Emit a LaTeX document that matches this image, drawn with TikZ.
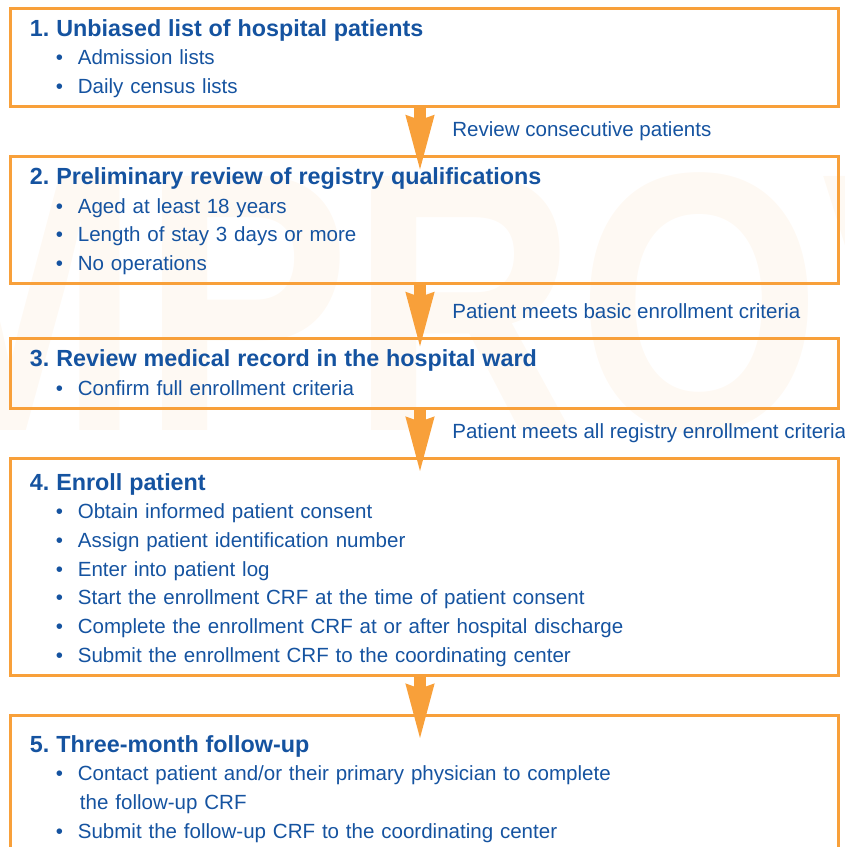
\documentclass[tikz,border=0pt]{standalone}
\usepackage{fontspec}
\setmainfont{Liberation Sans}
\newfontfamily\markfont[FakeStretch=0.85]{Liberation Sans}
\usetikzlibrary{arrows.meta,positioning}
\frenchspacing

\definecolor{stepblue}{HTML}{1553A0}
\definecolor{steporange}{HTML}{F8A03A}

% title line of a box, optional arg = space above the first baseline
\newcommand{\steptitle}[2][21pt]{\rule{0pt}{#1}{\fontsize{17.5pt}{21.5pt}\selectfont\bfseries #2}}
\newcommand{\stepitem}[1]{\\\hspace*{19.5pt}\textbullet\hspace{11pt}#1}
\newcommand{\stepend}[1][9.75pt]{\rule[-#1]{0pt}{#1}}

\begin{document}
\begin{tikzpicture}[
  x=0.75pt, y=0.75pt,
  stepbox/.style={draw=steporange, line width=2.25pt, text=stepblue, align=left,
    text width=591pt, inner xsep=15pt, inner ysep=0pt, outer sep=0pt,
    font={\fontsize{15.4pt}{21.5pt}\selectfont}},
  arr/.style={draw=steporange, line width=9.5pt,
    -{Stealth[length=41pt, width=22pt, inset=4pt, line width=0pt]}},
  note/.style={right=19.5pt, text=stepblue, inner sep=0pt,
    font={\fontsize{15.4pt}{18pt}\selectfont}},
  wmtext/.style={anchor=base west, inner sep=0pt, text=steporange!6,
    font={\markfont\bfseries\fontsize{277pt}{277pt}\selectfont}}
]
  \clip (0,0) rectangle (845,-847);

  % faint logo behind the boxes
  \node[wmtext] (wm) at (-208,-430) {IMPROVE};

  \node[stepbox, anchor=north west] (b1) at (10,-8)
    {\steptitle{1. Unbiased list of hospital patients}
     \stepitem{Admission lists}
     \stepitem{Daily census lists\stepend}};
  \node[stepbox, below=37.5pt of b1] (b2)
    {\steptitle{2. Preliminary review of registry qualifications}
     \stepitem{Aged at least 18 years}
     \stepitem{Length of stay 3 days or more}
     \stepitem{No operations\stepend}};
  \node[stepbox, below=41.25pt of b2] (b3)
    {\steptitle{3. Review medical record in the hospital ward}
     \stepitem{Confirm full enrollment criteria\stepend}};
  \node[stepbox, below=37.5pt of b3] (b4)
    {\steptitle[24pt]{4. Enroll patient}
     \stepitem{Obtain informed patient consent}
     \stepitem{Assign patient identification number}
     \stepitem{Enter into patient log}
     \stepitem{Start the enrollment CRF at the time of patient consent}
     \stepitem{Complete the enrollment CRF at or after hospital discharge}
     \stepitem{Submit the enrollment CRF to the coordinating center\stepend}};
  \node[stepbox, below=30pt of b4] (b5)
    {\steptitle[27.75pt]{5. Three-month follow-up}
     \stepitem{Contact patient and/or their primary physician to complete}\\
     \hspace*{37.5pt}the follow-up CRF
     \stepitem{Submit the follow-up CRF to the coordinating center\stepend[40pt]}};

  \draw[arr, shorten >=-9.75pt] ([xshift=-3pt]b1.south) -- node[note] {Review consecutive patients} ([xshift=-3pt]b2.north);
  \draw[arr, shorten >=-6pt] ([xshift=-3pt]b2.south) -- node[note] {Patient meets basic enrollment criteria} ([xshift=-3pt]b3.north);
  \draw[arr, shorten >=-9.75pt] ([xshift=-3pt]b3.south) -- node[note] {Patient meets all registry enrollment criteria} ([xshift=-3pt]b4.north);
  \draw[arr, shorten >=-17.25pt] ([xshift=-3pt]b4.south) -- ([xshift=-3pt]b5.north);
\end{tikzpicture}
\end{document}
